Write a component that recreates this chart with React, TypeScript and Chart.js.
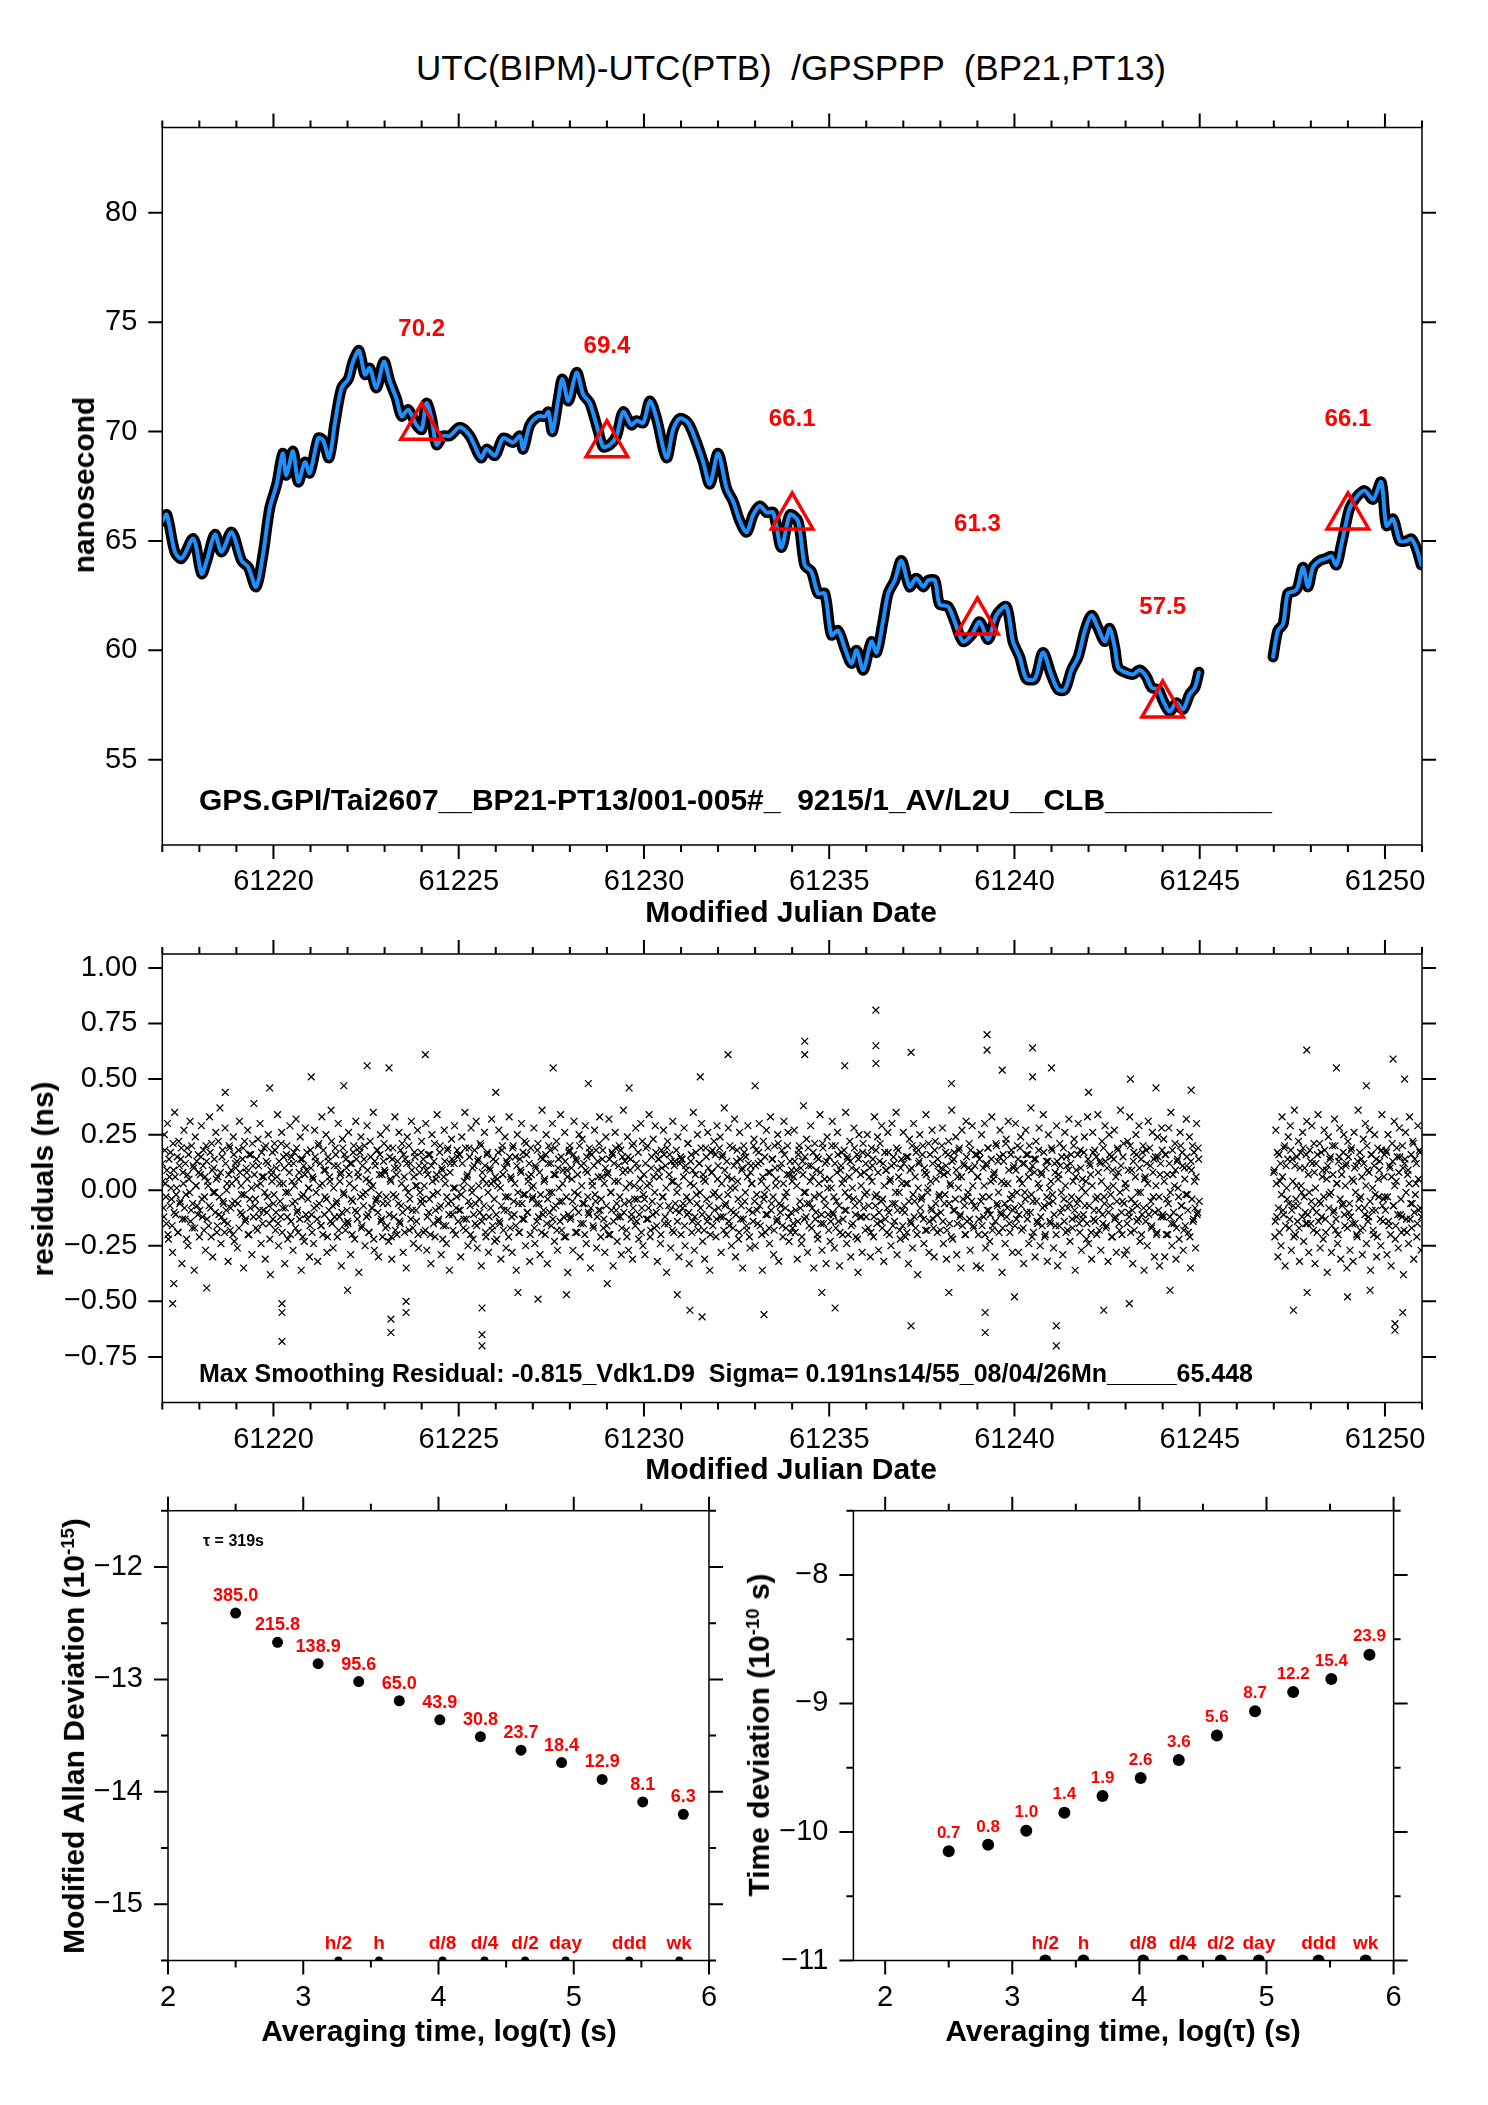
import { useEffect, useRef } from "react";
import { Chart, registerables } from "chart.js";

Chart.register(...registerables);

const FONT = "'Liberation Sans', Arial, Helvetica, sans-serif";
const RED = "#ff0000";
const BLUE = "#1e90ff";

// ---- top panel: smoothed UTC(BIPM)-UTC(PTB), ns ----
const smoothMjdA = [
  61217.0, 61217.12, 61217.34, 61217.52, 61217.84, 61218.06, 61218.2, 61218.42, 61218.6, 61218.87,
  61219.14, 61219.32, 61219.53, 61219.72, 61219.9, 61220.09, 61220.25, 61220.35, 61220.53, 61220.67,
  61220.85, 61220.98, 61221.21, 61221.34, 61221.5, 61221.66, 61221.84, 61222.02, 61222.15, 61222.31,
  61222.47, 61222.6, 61222.78, 61222.98, 61223.14, 61223.32, 61223.46, 61223.64, 61223.86, 61224.0,
  61224.13, 61224.27, 61224.4, 61224.58, 61224.76, 61225.03, 61225.3, 61225.6, 61225.75, 61225.98,
  61226.2, 61226.47, 61226.65, 61226.74, 61226.92, 61227.15, 61227.33, 61227.42, 61227.53, 61227.69,
  61227.8, 61227.96, 61228.18, 61228.36, 61228.54, 61228.77, 61228.9, 61229.08, 61229.26, 61229.44,
  61229.66, 61229.8, 61229.98, 61230.16, 61230.34, 61230.61, 61230.79, 61230.97, 61231.19, 61231.42,
  61231.6, 61231.78, 61232.0, 61232.23, 61232.41, 61232.59, 61232.77, 61232.95, 61233.13, 61233.31,
  61233.49, 61233.71, 61233.94, 61234.16, 61234.34, 61234.52, 61234.7, 61234.88, 61235.06, 61235.24,
  61235.42, 61235.6, 61235.74, 61235.92, 61236.14, 61236.28, 61236.46, 61236.59, 61236.77, 61236.95,
  61237.17, 61237.35, 61237.54, 61237.67, 61237.85, 61237.98, 61238.21, 61238.39, 61238.61, 61238.84,
  61239.06, 61239.29, 61239.51, 61239.78, 61239.96, 61240.14, 61240.32, 61240.55, 61240.77, 61240.99,
  61241.18, 61241.36, 61241.54, 61241.72, 61241.9, 61242.08, 61242.26, 61242.44, 61242.57, 61242.71,
  61242.8, 61242.98, 61243.2, 61243.38, 61243.56, 61243.7, 61243.88, 61244.01, 61244.19, 61244.37,
  61244.55, 61244.73, 61244.87, 61244.98,
];
const smoothNsA = [
  65.9, 66.2, 64.5, 64.2, 65.1, 63.5, 64.1, 65.3, 64.5, 65.4,
  64.1, 63.8, 62.9, 64.4, 66.5, 67.6, 69.0, 68.0, 69.1, 67.7,
  68.6, 68.1, 69.7, 69.6, 68.8, 70.4, 72.0, 72.4, 73.2, 73.7,
  72.6, 72.9, 72.0, 73.2, 72.3, 71.5, 70.7, 71.0, 70.3, 70.1,
  71.3, 70.6, 69.4, 69.8, 69.8, 70.2, 69.8, 68.8, 69.2, 68.9,
  69.7, 69.5, 69.8, 69.2, 70.3, 70.7, 70.7, 70.9, 70.0, 71.5,
  72.4, 71.4, 72.7, 71.7, 71.3, 70.0, 69.3, 69.4, 69.8, 70.9,
  70.3, 70.5, 70.4, 71.4, 70.6, 68.8, 70.1, 70.6, 70.4, 69.5,
  68.6, 67.6, 69.0, 67.4, 66.8, 65.9, 65.4, 66.2, 66.6, 66.3,
  66.3, 64.7, 66.2, 65.9, 63.9, 63.6, 62.6, 62.6, 60.7, 60.9,
  60.1, 59.4, 60.0, 59.1, 60.4, 59.9, 61.4, 62.6, 63.2, 64.1,
  62.9, 63.3, 62.9, 63.2, 63.2, 62.1, 62.0, 61.3, 60.4, 60.7,
  61.3, 60.5, 61.6, 62.0, 60.4, 59.7, 58.7, 58.7, 59.9, 58.9,
  58.2, 58.2, 59.1, 59.7, 60.9, 61.6, 61.0, 60.4, 61.0, 60.1,
  59.2, 59.0, 58.9, 59.1, 58.8, 58.3, 58.2, 57.7, 57.2, 57.6,
  57.3, 58.0, 58.3, 59.0,
];
const smoothMjdB = [
  61246.98, 61247.11, 61247.25, 61247.38, 61247.56, 61247.65, 61247.79, 61247.92, 61248.06, 61248.24,
  61248.42, 61248.55, 61248.69, 61248.82, 61248.96, 61249.05, 61249.23, 61249.45, 61249.68, 61249.9,
  61250.04, 61250.22, 61250.4, 61250.58, 61250.71, 61250.84, 61250.98,
];
const smoothNsB = [
  59.7, 60.9, 61.2, 62.6, 62.7, 62.9, 63.8, 62.9, 63.8, 64.1,
  64.2, 64.3, 63.9, 64.8, 65.9, 66.5, 67.0, 67.3, 66.9, 67.7,
  65.7, 66.0, 65.0, 65.0, 65.1, 64.7, 63.9,
];
const markMjd = [61224, 61229, 61234, 61239, 61244, 61249];
const markNs = [70.2, 69.4, 66.1, 61.3, 57.5, 66.1];

const mjdMajor = [61220, 61225, 61230, 61235, 61240, 61245, 61250];
const mjdMinor = [
  61217, 61218, 61219, 61221, 61222, 61223, 61224, 61226, 61227, 61228, 61229, 61231, 61232, 61233,
  61234, 61236, 61237, 61238, 61239, 61241, 61242, 61243, 61244, 61246, 61247, 61248, 61249, 61251,
];
const nsTicks = [55, 60, 65, 70, 75, 80];

// ---- middle panel: residuals, in 0.01 ns, 36 epochs per day in each list ----
const resPerDay = 36;
const resStartA = 61217;
const resA = [
  12,-8,25,3,-15,30,-22,6,17,-4,-28,9,35,-11,1,-19,22,-6,14,-33,8,27,-13,-2,19,-25,5,31,-9,-17,11,-36,24,2,-7,16,
  -21,7,29,-12,18,-3,-27,13,4,-16,33,-8,21,-30,10,-1,26,-19,6,-11,37,-24,15,-5,-14,28,-9,3,-32,20,-18,9,-6,24,-23,12,
  5,-26,18,31,-10,-2,14,-35,22,-13,8,27,-20,-4,16,-29,11,39,-7,-17,2,23,-12,30,-24,6,-9,19,-31,13,-3,25,-15,-38,7,17,
  -6,21,-18,10,34,-25,3,-12,26,-8,15,-33,-1,20,-22,12,29,-14,4,-27,17,-5,32,-10,-19,8,24,-36,14,-2,-23,28,9,-13,1,-30,
  18,-11,6,-24,27,13,-7,-32,21,2,-16,33,-20,9,-3,25,-28,15,-9,4,36,-15,-26,11,19,-6,-21,30,-12,7,-34,23,-1,16,-18,10,
  -14,26,3,-29,12,-5,20,-22,31,-10,8,-37,17,24,-16,-2,14,-25,5,29,-11,-19,22,1,-8,35,-27,11,-4,18,-30,7,25,-13,-21,13,
  9,-17,28,-6,-23,15,4,-31,19,-12,33,-3,-20,10,26,-15,-7,21,-28,6,14,-35,24,-1,-18,12,31,-9,-24,17,2,-14,27,-26,8,-5,
  22,-4,-19,11,30,-27,7,-10,16,-33,25,-2,13,-21,5,34,-14,-8,20,-29,9,-16,27,3,-24,18,-6,-36,12,23,-11,1,29,-20,-3,15,
  -9,16,-30,24,1,-13,35,-18,6,-25,19,-7,28,-1,-22,11,-15,31,-26,14,-4,21,-34,8,-12,26,-19,3,17,-28,10,-8,32,-16,4,-23,
  13,-22,2,27,-15,-31,18,7,-9,24,-26,12,-3,33,-17,5,-28,20,-11,15,-36,25,-6,-19,9,30,-13,-2,22,-25,16,-10,6,-32,19,1,
  -3,28,-24,10,-14,21,-6,-29,15,36,-11,4,-20,25,-33,12,-1,18,-16,30,-8,-23,7,22,-27,14,-5,34,-18,3,-12,26,-21,9,-37,17,
  20,-12,5,-27,31,-8,14,-19,-2,25,-30,11,23,-15,-6,29,-24,8,-10,19,-35,16,2,-17,27,-5,-26,13,-9,33,-21,6,18,-13,-28,24,
  -16,8,32,-20,-1,17,-34,12,26,-9,-23,4,20,-12,-29,15,36,-6,9,-18,24,-27,3,14,-11,-31,21,-4,28,-14,10,-22,1,30,-8,-25,
  7,-29,19,2,-13,34,-21,10,-5,23,-17,29,-10,-32,14,6,-24,18,-3,27,-15,11,-37,22,-7,16,-26,4,31,-19,13,-9,-1,24,-30,12,
  -20,14,-6,28,-25,9,-11,21,-33,3,16,-14,35,-27,7,-2,25,-18,12,-8,30,-23,5,-31,19,-4,26,-12,-36,17,8,-16,22,-1,-21,29,
  11,-3,24,-28,15,-12,37,-7,-20,6,28,-16,1,-25,19,-10,32,-30,13,4,-22,26,-13,9,-35,20,-5,15,-18,29,-9,-26,11,3,-14,23,
  -25,18,-9,12,30,-16,4,-36,22,-2,-19,27,-11,8,-24,33,-6,14,-29,20,2,-14,25,-32,10,-7,18,-21,31,-3,-17,7,26,-23,13,-10,
  4,-15,27,-19,9,-31,16,20,-8,-24,13,38,-13,-1,23,-28,11,-6,29,-17,6,-35,21,-10,15,-22,3,34,-15,-27,19,-4,12,-33,24,-11,
  15,-23,1,31,-11,-26,20,-5,26,-14,-34,9,17,-20,5,-9,35,-24,14,-3,22,-30,10,-15,28,-7,-21,16,-37,25,-12,2,-28,21,8,-18,
  -12,25,-17,6,-30,19,11,-21,33,-7,-2,24,-27,13,-14,29,-4,-32,17,9,-19,26,-10,4,-25,30,-16,12,-6,35,-29,18,-1,-22,14,-9,
  26,-7,-21,15,3,-33,23,-14,10,-26,30,-5,-17,19,-38,12,25,-11,-3,20,-24,8,34,-18,1,-28,16,-8,27,-13,-30,22,5,-19,11,-2,
  -18,10,28,-24,-6,17,-31,8,22,-15,2,36,-22,14,-9,24,-29,6,18,-12,-35,27,-4,11,-20,31,-14,-1,21,-27,9,29,-16,-7,16,-34,
  6,-20,14,-35,25,-3,-12,30,-26,11,19,-9,-23,4,33,-16,7,-30,21,-6,13,-19,27,-11,-37,16,3,-24,23,-8,31,-15,-4,18,-28,10,
  -8,30,-13,20,-28,5,24,-18,12,-33,-1,27,-10,16,-24,9,37,-21,-5,14,-30,22,-14,3,28,-25,8,-16,34,-7,-20,13,-32,25,1,-15,
  19,-2,-26,12,-16,29,-34,7,21,-10,15,-29,-4,26,-19,11,-8,32,-23,16,-13,4,23,-36,9,-6,30,-15,18,-27,5,-11,24,-1,-22,33,
  -24,12,7,-31,26,-13,18,-4,-20,34,-9,13,-27,22,-15,-3,29,-17,10,-32,25,-7,15,-21,2,27,-12,-28,19,8,-18,36,-10,-5,21,-29,
  3,-27,22,-10,33,-19,9,-33,17,-6,25,-14,-1,29,-23,14,-11,20,-36,6,18,-25,31,-8,11,-17,26,-3,-30,15,-20,24,-9,-34,12,28,
  -11,23,-30,16,-4,-20,28,-12,35,-25,7,-15,21,-31,13,1,-22,26,-7,17,-27,10,-16,32,-2,-19,24,-35,9,20,-13,4,-26,30,-10,14,
];
// second interleaved set of epochs (half a step later)
const resA2 = [
  4,-12,18,-3,9,-20,14,-7,1,-16,21,-10,6,-2,15,-19,11,-5,19,-13,3,-8,12,-22,7,16,-1,-14,20,-6,10,-17,2,13,-11,8,
  -9,15,-4,11,-18,6,20,-13,2,-7,17,-21,9,-1,14,-10,5,-16,22,-3,8,-12,18,-6,-19,12,0,-15,7,19,-8,3,-20,16,-5,10,
  13,-6,-17,8,2,-11,19,-2,-14,10,5,-20,16,-8,1,21,-12,7,-4,14,-18,11,-9,3,17,-15,6,-1,20,-10,12,-7,-22,9,4,-13,
  -2,18,-10,6,-15,13,-5,21,-19,3,10,-8,16,-12,-1,8,-20,15,-6,12,2,-17,19,-9,5,-13,14,-3,-21,11,7,-11,17,-4,1,-16,
  10,-19,5,-8,15,-1,-13,20,-6,12,-16,3,18,-11,9,-4,-21,13,6,-14,22,-7,1,-12,16,-5,11,-18,4,8,-10,19,-2,-15,14,-9,
  -15,7,12,-4,-20,17,1,-9,14,-13,6,19,-3,-17,11,-7,20,-1,-12,9,-19,4,15,-8,2,-22,13,-5,18,-10,-2,16,-14,7,-6,21,
  8,-3,-16,19,-11,5,-21,14,-2,10,-18,7,13,-6,-14,18,3,-10,16,-19,1,12,-8,20,-4,-13,9,-17,6,15,-9,2,-20,11,-1,17,
  -6,14,2,-18,9,-12,16,-4,-20,11,4,-15,21,-9,7,-1,-13,17,-7,10,-22,6,13,-16,-3,19,-11,8,-5,14,-18,12,1,-8,18,-14,
  16,-9,-2,12,-17,4,19,-13,7,-5,15,-20,1,10,-11,18,-6,-16,13,2,-10,20,-14,5,-7,11,-21,16,-1,-12,9,3,-18,14,-4,6,
  -11,5,17,-14,1,-7,20,-18,10,-3,13,-9,-21,15,6,-12,19,-5,3,-16,11,-1,-19,14,8,-6,17,-13,-2,21,-10,4,12,-20,7,-4,
  2,-17,11,-6,18,-12,8,-2,-19,14,-9,5,16,-15,-4,20,-10,12,-1,-13,7,19,-7,-18,10,1,-14,15,-5,9,-21,13,-3,6,-11,18,
  -13,10,-5,16,-1,-19,13,7,-10,20,-15,2,-6,12,-20,9,15,-3,-11,17,-8,4,-16,11,-2,18,-12,6,21,-9,-4,14,-17,3,10,-7,
  7,-20,14,-1,-9,16,-14,4,19,-6,-12,11,-3,18,-17,8,-10,13,1,-21,15,-5,9,-13,20,-8,2,-16,12,-4,17,-11,5,-19,22,-2,
  -4,12,-13,20,-8,3,-18,15,-11,6,-1,17,-16,9,14,-7,-20,10,-3,16,-12,1,19,-15,7,-9,13,-18,4,11,-6,18,-14,2,-10,15,
  14,-8,6,-16,11,-3,21,-10,-5,13,-19,9,2,-12,17,-6,-15,12,-1,19,-11,7,-18,4,15,-14,10,-7,-20,8,18,-2,-9,16,-13,5,
  -8,19,-12,3,16,-18,9,-6,13,-2,-14,20,-9,5,-17,11,1,-11,18,-4,-19,14,-7,10,-13,17,-1,-16,6,12,-21,8,3,-10,20,-5,
  11,-2,-15,17,-7,13,-20,6,-4,15,-11,1,19,-17,8,-9,14,-3,-18,10,5,-13,21,-6,-10,12,-16,3,16,-8,-1,20,-12,7,-19,9,
  -17,6,13,-9,2,-14,18,-5,10,-21,7,-1,15,-12,-6,19,-16,4,11,-8,17,-3,-13,9,-20,14,-2,8,-11,21,-15,5,-7,13,1,-18,
  5,-14,20,-10,-3,12,-17,8,16,-7,-19,11,3,-13,18,-1,-9,15,-20,6,13,-16,1,-4,19,-11,9,-22,14,-5,7,-12,17,-8,-2,12,
  -1,16,-7,10,-19,4,14,-12,-3,18,-15,8,-10,21,-5,-17,12,2,-13,9,-8,17,-20,5,11,-6,15,-14,-1,19,-9,6,-18,10,3,-16,
  12,-10,3,-19,15,-5,9,-15,20,-2,-12,6,17,-20,1,13,-8,-4,16,-13,10,-18,7,-1,21,-14,4,-9,12,-17,18,-6,-11,14,-3,8,
  -10,20,-14,7,-2,11,-18,16,-6,3,-21,13,-9,17,-4,9,-15,1,19,-11,6,-16,12,-7,-20,15,-3,10,-13,18,-5,2,-17,11,-8,16,
  6,-13,17,-5,-16,10,2,-20,12,-9,19,-3,-11,14,-18,5,8,-14,20,-7,-1,15,-10,4,-17,13,-6,21,-12,3,9,-19,16,-2,-9,11,
  -16,9,-1,14,-11,19,-7,3,-17,12,-4,16,-13,6,20,-10,-2,11,-19,8,14,-5,-15,18,1,-12,7,-8,17,-21,10,-3,13,-6,-14,4,
  18,-5,-11,8,-20,13,5,-16,11,-1,-8,19,-14,2,15,-18,9,-6,12,-3,-17,20,-9,6,-12,16,-4,-19,10,1,-13,17,-7,4,-15,14,
  -7,11,-19,2,17,-9,-14,15,-3,8,-18,12,4,-11,19,-6,13,-16,1,-10,16,-2,-21,9,14,-13,6,-5,18,-15,-1,11,-20,15,-6,3,
  1,-15,9,-12,20,-4,-9,13,-18,6,16,-7,-13,10,-1,-20,17,-8,5,-14,12,3,-11,19,-5,-16,8,14,-10,2,-19,15,-3,7,-12,18,
  -12,4,16,-20,7,-6,12,-1,-15,18,-10,2,9,-17,14,-3,-12,20,-7,11,-18,5,-2,15,-9,10,-21,13,-4,-14,17,-8,6,-11,19,-5,
];
const resStartB = 61247;
const resB = [
  8,-21,27,-12,-30,16,4,-25,33,-9,19,-34,11,-4,24,-17,29,-27,14,-7,36,-20,2,-14,22,-32,17,-1,26,-23,10,-15,31,-11,-28,18,
  -15,29,-8,21,-33,12,-19,34,-5,-26,17,6,-22,27,-13,9,-37,24,-2,15,-28,20,-10,32,-18,3,-24,13,28,-31,7,-6,25,-16,11,-35,
  22,-10,-27,18,5,-32,26,-15,11,-21,36,-4,-18,14,-29,23,-8,30,-24,9,-12,27,-36,16,1,-20,25,-9,-30,19,-3,13,-25,34,-14,6,
  -3,18,-29,25,-16,10,-34,21,-7,31,-22,4,15,-26,28,-11,-19,20,-38,12,26,-13,7,-24,33,-6,-17,22,-31,14,3,-21,29,-9,17,-27,
];
const resB2 = [
  9,-14,3,17,-8,-19,12,-2,6,-11,20,-16,1,14,-6,-13,18,-9,4,-21,11,-4,15,-7,-17,10,2,-12,19,-3,-10,16,-15,7,-1,13,
  -5,12,-18,8,1,-10,16,-14,21,-6,-12,9,-3,18,-19,5,11,-8,14,-1,-16,7,-9,20,-13,3,-20,15,-4,10,-7,17,-11,2,12,-17,
  15,-6,-12,19,-15,4,10,-1,-20,13,-8,17,-3,6,-17,12,-11,2,20,-14,8,-5,16,-9,-18,11,-2,14,-21,5,9,-13,18,-7,-4,16,
  -9,17,-3,-14,11,-20,6,13,-7,2,-16,19,-11,8,15,-4,-12,10,-18,14,-1,-19,9,3,-13,16,-6,21,-10,-2,12,-15,5,18,-8,-12,
];
const outMjd = [
  61236.26, 61234.34, 61234.34, 61239.26, 61239.26, 61240.49, 61236.26, 61236.26, 61224.1, 61247.89,
  61250.22, 61232.27, 61240.49, 61241.0, 61222.53, 61223.12, 61227.55, 61235.42, 61237.21, 61239.67,
  61248.69, 61250.53, 61243.13, 61221.02, 61231.52, 61243.82, 61244.77, 61218.7, 61219.9, 61221.9,
  61226.0, 61228.5, 61229.6, 61233.0, 61238.3, 61242.0, 61249.5,
  61220.23, 61220.23, 61220.23, 61217.28, 61223.17, 61223.17, 61223.58, 61223.58, 61225.63, 61225.63,
  61225.63, 61231.57, 61231.24, 61233.24, 61237.21, 61239.21, 61239.21, 61241.13, 61241.13, 61242.41,
  61247.53, 61250.27, 61250.27, 61250.48, 61248.99, 61217.31, 61227.14, 61227.91, 61235.16, 61243.1,
  61238.23, 61229.01, 61218.2, 61222.0, 61226.6, 61230.9, 61234.8, 61240.0, 61244.2, 61247.9, 61249.6,
];
const outRes = [
  0.81, 0.67, 0.61, 0.7, 0.63, 0.64, 0.65, 0.57, 0.61, 0.63,
  0.59, 0.61, 0.51, 0.55, 0.56, 0.55, 0.55, 0.56, 0.62, 0.54,
  0.55, 0.5, 0.5, 0.51, 0.51, 0.46, 0.45, 0.44, 0.46, 0.47,
  0.44, 0.48, 0.46, 0.47, 0.48, 0.44, 0.47,
  -0.68, -0.55, -0.51, -0.51, -0.58, -0.64, -0.5, -0.55, -0.65, -0.7,
  -0.53, -0.57, -0.54, -0.56, -0.61, -0.64, -0.55, -0.61, -0.7, -0.54,
  -0.54, -0.6, -0.63, -0.55, -0.48, -0.42, -0.49, -0.47, -0.53, -0.51,
  -0.46, -0.42, -0.44, -0.45, -0.46, -0.47, -0.46, -0.48, -0.45, -0.46, -0.45,
];
const resTicks = [-0.75, -0.5, -0.25, 0, 0.25, 0.5, 0.75, 1.0];

// ---- bottom panels: stability ----
const adevLogTau = [2.5, 2.81, 3.11, 3.41, 3.71, 4.01, 4.31, 4.61, 4.91, 5.21, 5.51, 5.81];
const adevLog = [-12.41, -12.67, -12.86, -13.02, -13.19, -13.36, -13.51, -13.63, -13.74, -13.89, -14.09, -14.2];
const adevText = ["385.0", "215.8", "138.9", "95.6", "65.0", "43.9", "30.8", "23.7", "18.4", "12.9", "8.1", "6.3"];
const tdevLogTau = [2.5, 2.81, 3.11, 3.41, 3.71, 4.01, 4.31, 4.61, 4.91, 5.21, 5.51, 5.81];
const tdevLog = [-10.15, -10.1, -9.99, -9.85, -9.72, -9.58, -9.44, -9.25, -9.06, -8.91, -8.81, -8.62];
const tdevText = ["0.7", "0.8", "1.0", "1.4", "1.9", "2.6", "3.6", "5.6", "8.7", "12.2", "15.4", "23.9"];
const spanLogTau = [3.26, 3.56, 4.03, 4.34, 4.64, 4.94, 5.41, 5.78];
const spanText = ["h/2", "h", "d/8", "d/4", "d/2", "day", "ddd", "wk"];
const tauMajor = [2, 3, 4, 5, 6];
const tauMinor = [2.5, 3.5, 4.5, 5.5];
const adevMajor = [-15, -14, -13, -12];
const adevMinor = [-15.5, -14.5, -13.5, -12.5, -11.5];
const tdevMajor = [-11, -10, -9, -8];
const tdevMinor = [-10.5, -9.5, -8.5, -7.5];

const pts = (xs: number[], ys: number[]) => xs.map((x, i) => ({ x, y: ys[i] }));
const epochs = (start: number, vals: number[], shift: number) =>
  vals.map((r, i) => ({ x: start + (i + shift) / resPerDay, y: r / 100 }));
const minus = (v: number, digits = 0) => v.toFixed(digits).replace("-", "\u2212");

// frame and outward ticks on all four sides
const frameTicks = {
  id: "frameTicks",
  afterDraw(chart: any, _args: any, opts: any) {
    const { ctx, chartArea: a, scales } = chart;
    const draw = (xv: number[], yv: number[], len: number) => {
      ctx.beginPath();
      for (const v of xv) {
        const p = scales.x.getPixelForValue(v);
        ctx.moveTo(p, a.bottom);
        ctx.lineTo(p, a.bottom + len);
        ctx.moveTo(p, a.top);
        ctx.lineTo(p, a.top - len);
      }
      for (const v of yv) {
        const p = scales.y.getPixelForValue(v);
        ctx.moveTo(a.left, p);
        ctx.lineTo(a.left - len, p);
        ctx.moveTo(a.right, p);
        ctx.lineTo(a.right + len, p);
      }
      ctx.stroke();
    };
    ctx.save();
    ctx.strokeStyle = "#000";
    ctx.lineWidth = 1.5;
    ctx.strokeRect(a.left, a.top, a.right - a.left, a.bottom - a.top);
    ctx.lineWidth = 2;
    draw(opts.xMajor || [], opts.yMajor || [], 14);
    draw(opts.xMinor || [], opts.yMinor || [], 7);
    ctx.restore();
  },
};

// text drawn above the points of a dataset
const pointLabels = {
  id: "pointLabels",
  afterDatasetsDraw(chart: any, _args: any, opts: any) {
    const { ctx } = chart;
    for (const set of opts.sets || []) {
      const meta = chart.getDatasetMeta(set.index);
      ctx.save();
      ctx.fillStyle = RED;
      ctx.font = set.font;
      ctx.textAlign = "center";
      ctx.textBaseline = "middle";
      meta.data.forEach((el: any, i: number) => ctx.fillText(set.labels[i], el.x, el.y - set.dy));
      ctx.restore();
    }
  },
};

const tickFont = { family: FONT, size: 29 };

function xAxis(min: number, max: number, majors: number[], height: number, pad: number, fmt: (v: number) => string) {
  return {
    type: "linear",
    min,
    max,
    grid: { display: false, drawTicks: false },
    border: { display: false },
    ticks: { autoSkip: false, maxRotation: 0, padding: pad, color: "#000", font: tickFont, callback: (v: number) => fmt(v) },
    afterBuildTicks: (s: any) => {
      s.ticks = majors.map((value) => ({ value }));
    },
    afterFit: (s: any) => {
      s.height = height;
      s.paddingLeft = 0;
      s.paddingRight = 0;
    },
  };
}

function yAxis(min: number, max: number, majors: number[], width: number, fmt: (v: number) => string) {
  return {
    type: "linear",
    min,
    max,
    grid: { display: false, drawTicks: false },
    border: { display: false },
    ticks: { autoSkip: false, padding: 25, color: "#000", font: tickFont, callback: (v: number) => fmt(v) },
    afterBuildTicks: (s: any) => {
      s.ticks = majors.map((value) => ({ value }));
    },
    afterFit: (s: any) => {
      s.width = width;
      s.paddingTop = 0;
      s.paddingBottom = 0;
    },
  };
}

function baseOptions(padTop: number, padRight: number, x: any, y: any, frame: any, labels: any[]) {
  return {
    responsive: false,
    animation: false,
    events: [],
    layout: { padding: { top: padTop, right: padRight, left: 0, bottom: 0 } },
    scales: { x, y },
    plugins: {
      legend: { display: false },
      tooltip: { enabled: false },
      frameTicks: frame,
      pointLabels: { sets: labels },
    },
  };
}

const line = (xs: number[], ys: number[], color: string, width: number, order: number) => ({
  data: pts(xs, ys),
  showLine: true,
  borderColor: color,
  borderWidth: width,
  borderJoinStyle: "round",
  borderCapStyle: "round",
  pointRadius: 0,
  tension: 0.3,
  order,
});

function topConfig(): any {
  return {
    type: "scatter",
    data: {
      datasets: [
        {
          data: pts(markMjd, markNs),
          pointStyle: "triangle",
          pointRadius: 24,
          borderColor: RED,
          borderWidth: 3.5,
          backgroundColor: "rgba(0,0,0,0)",
          order: 0,
        },
        line(smoothMjdA, smoothNsA, BLUE, 4, 1),
        line(smoothMjdB, smoothNsB, BLUE, 4, 1),
        line(smoothMjdA, smoothNsA, "#000", 11, 2),
        line(smoothMjdB, smoothNsB, "#000", 11, 2),
      ],
    },
    options: baseOptions(
      23.5,
      66,
      xAxis(61217, 61251, mjdMajor, 65, 20, (v) => String(v)),
      yAxis(51.1, 83.9, nsTicks, 162.3, (v) => String(v)),
      { xMajor: mjdMajor, xMinor: mjdMinor, yMajor: nsTicks },
      [{ index: 0, labels: markNs.map((v) => v.toFixed(1)), dy: 98, font: `bold 24px ${FONT}` }]
    ),
    plugins: [frameTicks, pointLabels],
  };
}

function residualConfig(): any {
  const cross = { pointStyle: "crossRot", pointRadius: 4.8, borderColor: "#000", borderWidth: 1.25, backgroundColor: "#000" };
  return {
    type: "scatter",
    data: {
      datasets: [
        { data: epochs(resStartA, resA, 0), ...cross },
        { data: epochs(resStartA, resA2, 0.5), ...cross },
        { data: epochs(resStartB, resB, 0), ...cross },
        { data: epochs(resStartB, resB2, 0.5), ...cross },
        { data: pts(outMjd, outRes), ...cross },
      ],
    },
    options: baseOptions(
      29,
      66,
      xAxis(61217, 61251, mjdMajor, 67.5, 20, (v) => String(v)),
      yAxis(-0.955, 1.0626, resTicks, 162.3, (v) => minus(v, 2)),
      { xMajor: mjdMajor, xMinor: mjdMinor, yMajor: resTicks },
      []
    ),
    plugins: [frameTicks, pointLabels],
  };
}

function stabilityConfig(
  xMin: number,
  yMin: number,
  yMax: number,
  xs: number[],
  ys: number[],
  texts: string[],
  yMajor: number[],
  yMinor: number[],
  yWidth: number,
  padRight: number,
  dotR: number,
  spanR: number,
  textFont: string,
  textDy: number
): any {
  return {
    type: "scatter",
    data: {
      datasets: [
        { data: pts(xs, ys), pointRadius: dotR, backgroundColor: "#000", borderColor: "#000", borderWidth: 0 },
        {
          data: spanLogTau.map((x) => ({ x, y: yMin })),
          pointRadius: spanR,
          backgroundColor: "#000",
          borderColor: "#000",
          borderWidth: 0,
        },
      ],
    },
    options: baseOptions(
      30.7,
      padRight,
      xAxis(xMin, 6, tauMajor, 79.5, 20, (v) => String(v)),
      yAxis(yMin, yMax, yMajor, yWidth, (v) => minus(v)),
      { xMajor: tauMajor, xMinor: tauMinor, yMajor, yMinor },
      [
        { index: 0, labels: texts, dy: textDy, font: textFont },
        { index: 1, labels: spanText, dy: 17, font: `bold 19px ${FONT}` },
      ]
    ),
    plugins: [frameTicks, pointLabels],
  };
}

const adevConfig = () =>
  stabilityConfig(2, -15.5, -11.5, adevLogTau, adevLog, adevText, adevMajor, adevMinor, 168, 51, 5.5, 4, `bold 18px ${FONT}`, 17);
const tdevConfig = () =>
  stabilityConfig(1.75, -11, -7.5, tdevLogTau, tdevLog, tdevText, tdevMajor, tdevMinor, 93.4, 94.4, 6, 6, `bold 17px ${FONT}`, 18);

type Box = { left: number; top: number; width: number; height: number };

function ChartCanvas({ box, make }: { box: Box; make: () => any }) {
  const canvasRef = useRef<HTMLCanvasElement>(null);

  useEffect(() => {
    if (!canvasRef.current) return;
    const chart = new Chart(canvasRef.current, make());
    return () => {
      chart.destroy();
    };
  }, [make]);

  return (
    <canvas
      ref={canvasRef}
      width={box.width}
      height={box.height}
      style={{ position: "absolute", left: box.left, top: box.top, width: box.width, height: box.height }}
    />
  );
}

function Text({
  x,
  y,
  size,
  bold = false,
  rotate = false,
  start = false,
  children,
}: {
  x: number;
  y: number;
  size: number;
  bold?: boolean;
  rotate?: boolean;
  start?: boolean;
  children: any;
}) {
  const tx = start ? "0" : "-50%";
  return (
    <div
      style={{
        position: "absolute",
        left: x,
        top: y,
        transform: `translate(${tx}, -50%)${rotate ? " rotate(-90deg)" : ""}`,
        fontFamily: FONT,
        fontSize: size,
        fontWeight: bold ? 700 : 400,
        lineHeight: 1,
        whiteSpace: "pre",
        color: "#000",
      }}
    >
      {children}
    </div>
  );
}

const sup = { fontSize: "0.62em", verticalAlign: "0.55em" };

export default function App() {
  return (
    <div style={{ position: "absolute", left: 0, top: 0, width: 1488, height: 2105, background: "#fff" }}>
      <ChartCanvas box={{ left: 0, top: 100, width: 1488, height: 810 }} make={topConfig} />
      <ChartCanvas box={{ left: 0, top: 925, width: 1488, height: 545 }} make={residualConfig} />
      <ChartCanvas box={{ left: 0, top: 1480, width: 760, height: 560 }} make={adevConfig} />
      <ChartCanvas box={{ left: 760, top: 1480, width: 728, height: 560 }} make={tdevConfig} />

      <Text x={791} y={66.7} size={35}>
        {"UTC(BIPM)-UTC(PTB)  /GPSPPP  (BP21,PT13)"}
      </Text>
      <Text x={83.5} y={485} size={30} bold rotate>
        nanosecond
      </Text>
      <Text x={199} y={800} size={30} bold start>
        {"GPS.GPI/Tai2607__BP21-PT13/001-005#_  9215/1_AV/L2U__CLB__________"}
      </Text>
      <Text x={791} y={912} size={30} bold>
        Modified Julian Date
      </Text>

      <Text x={42.7} y={1178.5} size={30} bold rotate>
        residuals (ns)
      </Text>
      <Text x={199} y={1373} size={25} bold start>
        {"Max Smoothing Residual: -0.815_Vdk1.D9  Sigma= 0.191ns14/55_08/04/26Mn_____65.448"}
      </Text>
      <Text x={791} y={1468.6} size={30} bold>
        Modified Julian Date
      </Text>

      <Text x={203} y={1541} size={16} bold start>
        {"\u03c4 = 319s"}
      </Text>
      <Text x={74} y={1736} size={30} bold rotate>
        Modified Allan Deviation (10<span style={sup}>-15</span>)
      </Text>
      <Text x={439} y={2030.5} size={30} bold>
        {"Averaging time, log(\u03c4) (s)"}
      </Text>
      <Text x={759} y={1735} size={30} bold rotate>
        Time deviation (10<span style={sup}>-10</span> s)
      </Text>
      <Text x={1123} y={2030.5} size={30} bold>
        {"Averaging time, log(\u03c4) (s)"}
      </Text>
    </div>
  );
}
